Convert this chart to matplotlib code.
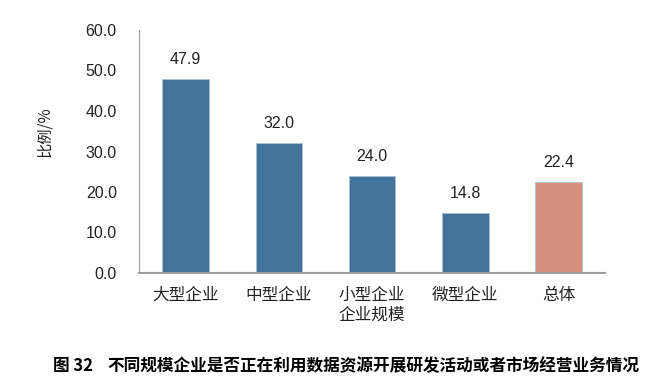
import matplotlib.pyplot as plt

plt.rcParams['font.family'] = ['Liberation Sans', 'Noto Sans CJK SC', 'DejaVu Sans']

categories = ['大型企业', '中型企业', '小型企业', '微型企业', '总体']
values = [47.9, 32.0, 24.0, 14.8, 22.4]
bar_colors = ['#44739a', '#44739a', '#44739a', '#44739a', '#d98f7e']
yticks = [0, 10, 20, 30, 40, 50, 60]

cjk = ['Noto Sans CJK SC', 'DejaVu Sans']

fig = plt.figure(figsize=(6.51, 3.9), dpi=100)
ax = fig.add_axes([139 / 651, 1 - 273 / 390, 466 / 651, 243 / 390])

x = range(len(categories))
ax.bar(x, values, width=0.5, color=bar_colors, edgecolor='#a9bfd3', linewidth=0.6)
for xi, v in zip(x, values):
    ax.text(xi, v + 3, f'{v:.1f}', ha='center', va='bottom', fontsize=11.5, color='#222222')

ax.set_xlim(-0.5, len(categories) - 0.5)
ax.set_ylim(0, 60)
ax.set_yticks(yticks)
ax.set_yticklabels([f'{t:.1f}' for t in yticks], fontsize=11.5, color='#222222')
ax.set_xticks(list(x))
ax.set_xticklabels(categories, fontsize=12, color='#222222', family=cjk)
ax.tick_params(axis='y', length=0, pad=16)
ax.tick_params(axis='x', length=0, pad=10)

ax.set_xlabel('企业规模', fontsize=12, color='#222222', labelpad=2, family=cjk)
ax.set_ylabel('比例/%', fontsize=11, color='#222222', family=cjk)
ax.yaxis.set_label_coords(-0.185, 0.58)

ax.spines['top'].set_visible(False)
ax.spines['right'].set_visible(False)
ax.spines['left'].set_color('#a0a0a0')
ax.spines['bottom'].set_color('#a0a0a0')
ax.spines['bottom'].set_linewidth(1.5)

fig.text(53 / 651, 1 - 366 / 390, '图 32', fontsize=12, fontweight='bold',
         va='center', ha='left', family=cjk)
fig.text(107 / 651, 1 - 366 / 390, '不同规模企业是否正在利用数据资源开展研发活动或者市场经营业务情况',
         fontsize=12, fontweight='bold', va='center', ha='left', family=cjk)

fig.savefig('out.png', dpi=100)
